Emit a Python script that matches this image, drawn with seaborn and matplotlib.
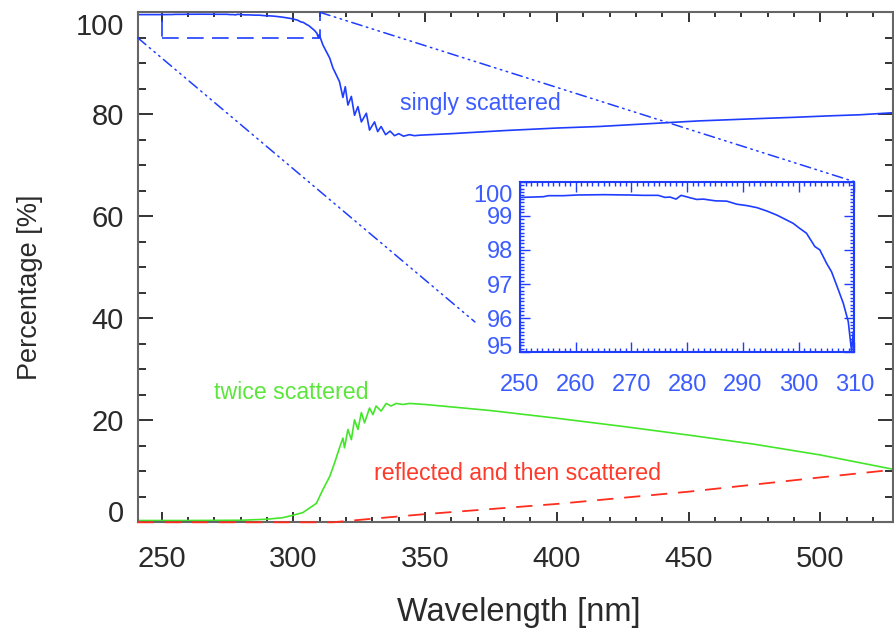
import numpy as np
import pandas as pd
import matplotlib
matplotlib.use("Agg")
import matplotlib.pyplot as plt
import seaborn as sns
from matplotlib.patches import ConnectionPatch, Rectangle
from matplotlib.ticker import MultipleLocator
from matplotlib.transforms import ScaledTranslation

# ---------------- data ----------------
single_wl = [240.9, 250.3, 254.2, 255.1, 257.8, 260.2, 265.0, 269.7, 272.1, 274.8, 276.0,
             276.9, 278.0, 278.9, 280.5, 281.7, 282.9, 285.0, 287.1, 288.9, 290.7, 292.5,
             294.3, 296.1, 297.8, 299.0, 300.2, 301.4, 302.9, 303.8, 305.0, 305.9, 306.8,
             308.0, 308.9, 309.5, 309.8, 311.2, 313.8, 315.0, 317.5, 318.8, 319.7, 320.7,
             322.0, 323.2, 324.5, 325.8, 327.7, 328.9, 330.8, 332.0, 333.3, 335.0, 336.7,
             338.4, 340.0, 341.8, 344.0, 346.0, 348.0, 360.0, 380.0, 400.0, 416.0, 440.0,
             454.0, 479.0, 490.0, 504.0, 515.0, 527.6]
single_pct = [99.54, 99.54, 99.56, 99.59, 99.59, 99.61, 99.62, 99.61, 99.60, 99.60, 99.54,
              99.55, 99.49, 99.60, 99.53, 99.48, 99.49, 99.44, 99.43, 99.34, 99.30, 99.24,
              99.14, 99.02, 98.88, 98.78, 98.63, 98.49, 98.10, 98.00, 97.61, 97.36, 96.97,
              96.44, 95.90, 95.02, 95.6, 93.6, 91.0, 89.1, 86.4, 83.3, 85.4, 81.8,
              83.5, 79.8, 81.5, 78.5, 80.2, 76.9, 78.5, 76.6, 77.6, 76.0, 76.7,
              75.8, 76.2, 75.7, 76.0, 75.8, 75.9, 76.2, 76.8, 77.3, 77.6, 78.3,
              78.7, 79.2, 79.4, 79.7, 79.9, 80.3]

twice_wl = [240.9, 260.0, 280.0, 290.0, 296.0, 300.0, 303.6, 308.7, 311.2, 313.8, 315.6,
            317.5, 318.8, 319.4, 320.7, 322.0, 323.2, 324.5, 325.8, 327.0, 328.9, 330.2,
            331.4, 333.3, 335.2, 337.1, 339.0, 341.5, 344.1, 350.0, 375.0, 400.0, 425.0,
            450.0, 475.0, 500.0, 527.6]
twice_pct = [0.35, 0.35, 0.4, 0.6, 0.9, 1.4, 1.9, 3.7, 6.4, 9.0, 11.6,
             14.6, 16.5, 14.6, 18.2, 16.2, 20.1, 18.2, 21.5, 19.5, 22.4, 21.1,
             22.8, 21.8, 23.3, 22.8, 23.3, 23.1, 23.3, 23.1, 21.9, 20.4, 18.8,
             17.1, 15.3, 13.2, 10.4]

refl_wl = [240.9, 300.0, 315.0, 330.0, 350.0, 375.0, 400.0, 425.0, 450.0, 475.0, 500.0, 527.6]
refl_pct = [0.0, 0.0, 0.0, 0.7, 1.6, 2.6, 3.6, 4.8, 6.0, 7.4, 8.8, 10.3]

x_ticks = [250, 300, 350, 400, 450, 500]
y_ticks = [0, 20, 40, 60, 80, 100]
inset_x_ticks = [250, 260, 270, 280, 290, 300, 310]
inset_y_ticks = [95, 96, 97, 98, 99, 100]
zoom_box = (250, 310, 95, 100)   # wavelength range, percentage range

labels = ["singly scattered", "twice scattered", "reflected and then scattered"]

# ---------------- style ----------------
sns.set_style("ticks")
plt.rcParams["font.family"] = ["Liberation Sans", "DejaVu Sans"]

BLUE = "#1f3dff"
BLUE_TXT = "#3c5cff"
GREEN = "#44e62a"
GREEN_TXT = "#5ce63c"
RED = "#ff2d1e"
RED_TXT = "#ff3a2a"
GRAY_TXT = "#2a2a2a"

df_s = pd.DataFrame({"wl": single_wl, "pct": single_pct})
df_t = pd.DataFrame({"wl": twice_wl, "pct": twice_pct})
df_r = pd.DataFrame({"wl": refl_wl, "pct": refl_pct})

fig = plt.figure(figsize=(8.94, 6.32), dpi=100)
ax = fig.add_axes([0.1540, 0.1736, 0.8449, 0.8070])

sns.lineplot(data=df_s, x="wl", y="pct", ax=ax, color=BLUE, lw=1.2,
             estimator=None, sort=False)
sns.lineplot(data=df_t, x="wl", y="pct", ax=ax, color=GREEN, lw=1.2,
             estimator=None, sort=False)
sns.lineplot(data=df_r, x="wl", y="pct", ax=ax, color=RED, lw=1.3,
             estimator=None, sort=False, linestyle=(0, (9, 6)), zorder=3, clip_on=False)

ax.set_xlim(240.9, 527.6)
ax.set_ylim(0, 100)
ax.set_xticks(x_ticks)
ax.set_xticklabels([str(v) for v in x_ticks])
ax.set_yticks(y_ticks)
ax.set_yticklabels([str(v) for v in y_ticks])
ax.xaxis.set_minor_locator(MultipleLocator(10))
ax.yaxis.set_minor_locator(MultipleLocator(5))
ax.tick_params(which="both", direction="in", top=True, right=True,
               color="#111111", width=1.2)
ax.tick_params(axis="x", which="major", length=7.5)
ax.tick_params(axis="x", which="minor", length=3.8)
ax.tick_params(axis="y", which="major", length=11)
ax.tick_params(axis="y", which="minor", length=5.5)
ax.tick_params(axis="x", which="major", pad=16, labelsize=21, labelcolor=GRAY_TXT)
ax.tick_params(axis="y", which="major", pad=10, labelsize=21, labelcolor=GRAY_TXT)
for sp in ax.spines.values():
    sp.set_color("#666666")
    sp.set_linewidth(1.5)

ax.set_xlabel("Wavelength [nm]", fontsize=23.5, color=GRAY_TXT)
ax.set_ylabel("Percentage [%]", fontsize=19.5, color=GRAY_TXT)
ax.xaxis.set_label_coords(0.505, -0.146)
ax.yaxis.set_label_coords(-0.125, 0.46)

# shift the extreme y labels inward
for t in ax.yaxis.get_major_ticks():
    if t.get_loc() == 0:
        t.label1.set_transform(t.label1.get_transform() +
                               ScaledTranslation(0, 0.11, fig.dpi_scale_trans))
    elif t.get_loc() == 100:
        t.label1.set_transform(t.label1.get_transform() +
                               ScaledTranslation(0, -0.12, fig.dpi_scale_trans))

# curve labels
ax.text(370.8, 82.1, labels[0], color=BLUE_TXT, fontsize=16.7, ha="center", va="center")
ax.text(299.1, 25.5, labels[1], color=GREEN_TXT, fontsize=16.7, ha="center", va="center")
ax.text(384.9, 9.5, labels[2], color=RED_TXT, fontsize=16.7, ha="center", va="center")

# zoom box
x0, x1, y0, y1 = zoom_box
ax.add_patch(Rectangle((x0, y0), x1 - x0, y1 - y0, fill=False, edgecolor=BLUE,
                       lw=1.2, linestyle=(0, (10, 5)), clip_on=False))

# inset
axi = fig.add_axes([0.5817, 0.4426, 0.3740, 0.2699])
sns.lineplot(data=df_s[(df_s.wl >= x0) & (df_s.wl <= x1)], x="wl", y="pct", ax=axi,
             color=BLUE, lw=1.2, estimator=None, sort=False)
axi.set_xlim(x0, x1)
axi.set_ylim(y0, y1)
axi.set_xticks(inset_x_ticks)
axi.set_xticklabels([str(v) for v in inset_x_ticks])
axi.set_yticks(inset_y_ticks)
axi.set_yticklabels([str(v) for v in inset_y_ticks])
axi.xaxis.set_minor_locator(MultipleLocator(1))
axi.yaxis.set_minor_locator(MultipleLocator(0.1))
axi.set_xlabel("")
axi.set_ylabel("")
axi.tick_params(which="both", direction="in", top=True, right=True, color=BLUE, width=1.0)
axi.tick_params(which="major", length=7)
axi.tick_params(which="minor", length=3.0)
axi.tick_params(axis="x", which="major", pad=16, labelsize=17, labelcolor=BLUE_TXT)
axi.tick_params(axis="y", which="major", pad=5, labelsize=17, labelcolor=BLUE_TXT)
for sp in axi.spines.values():
    sp.set_color(BLUE)
    sp.set_linewidth(1.5)
for t in axi.yaxis.get_major_ticks():
    if t.get_loc() == 95:
        t.label1.set_transform(t.label1.get_transform() +
                               ScaledTranslation(0, 0.07, fig.dpi_scale_trans))
    elif t.get_loc() == 100:
        t.label1.set_transform(t.label1.get_transform() +
                               ScaledTranslation(0, -0.12, fig.dpi_scale_trans))

# connector lines
dd = (0, (7, 3, 1, 3, 1, 3, 1, 3))
c1 = ConnectionPatch(xyA=(ax.get_xlim()[0], y0), coordsA=ax.transData,
                     xyB=(-0.135, 0.178), coordsB=axi.transAxes,
                     color=BLUE, lw=1.1, linestyle=dd)
c2 = ConnectionPatch(xyA=(x1, y1), coordsA=ax.transData,
                     xyB=(1.0, 1.0), coordsB=axi.transAxes,
                     color=BLUE, lw=1.1, linestyle=dd)
fig.add_artist(c1)
fig.add_artist(c2)

fig.savefig("out.png", dpi=100)
